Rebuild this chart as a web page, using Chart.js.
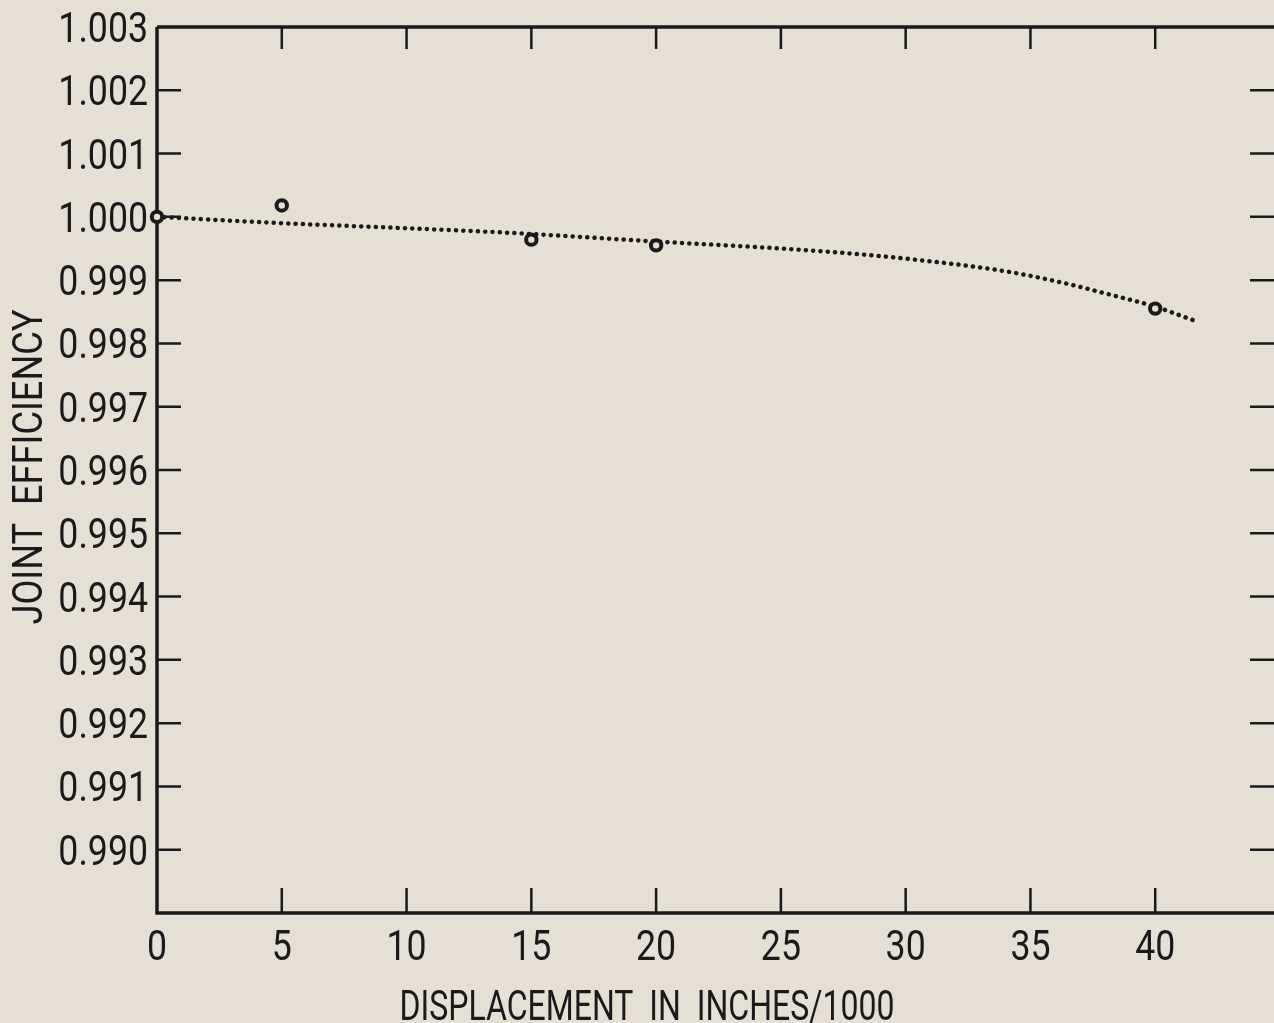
<!DOCTYPE html>
<html>
<head>
<meta charset="utf-8">
<script src="https://cdn.jsdelivr.net/npm/chart.js@4.4.1/dist/chart.umd.min.js"></script>
<style>
html, body { margin: 0; padding: 0; background: #e5dfd4; overflow: hidden; }
#wrap { width: 1290px; height: 1023px; }
</style>
</head>
<body>
<div id="wrap"><canvas id="chart_joint" width="1290" height="1023"></canvas></div>
<script>
// measured joint efficiency vs displacement (in/1000)
const measuredX = [0, 5, 15, 20, 40];
const measuredEff = [1.0000, 1.00018, 0.99964, 0.99955, 0.99855];

// smoothed trend through the measurements
const curveX = [0, 5, 10, 14, 20, 26.5, 30, 34, 36.5, 38, 40, 41.5];
const curveEff = [1.0000, 0.99990, 0.99982, 0.99975, 0.99961, 0.99946, 0.99934, 0.99914, 0.99894, 0.99879, 0.99858, 0.99837];

const xTickLabels = ['0', '5', '10', '15', '20', '25', '30', '35', '40'];
const yTickLabels = ['0.990', '0.991', '0.992', '0.993', '0.994', '0.995', '0.996', '0.997', '0.998', '0.999', '1.000', '1.001', '1.002', '1.003'];

const xTitle = 'DISPLACEMENT  IN  INCHES/1000';
const yTitle = 'JOINT  EFFICIENCY';

const BG = '#e5dfd4';
const INK = '#1a1a1a';
const FONT = 'Roboto, "Liberation Sans", sans-serif';
const LABEL_PX = 43;
const SQUEEZE = 0.83;   // lettering is narrower than the font

function labelFor(list, value, digits) {
    const s = digits ? value.toFixed(digits) : String(Math.round(value));
    return list.includes(s) ? s : '';
}

// condensed text: squeeze horizontally, optionally to a fixed width
function drawText(ctx, text, x, y, align, width) {
    ctx.save();
    ctx.translate(x, y);
    const w = ctx.measureText(text).width;
    ctx.scale(width ? width / w : SQUEEZE, 1);
    ctx.textAlign = align;
    ctx.fillText(text, 0, 0);
    ctx.restore();
}

// frame, inward tick marks and lettering
const frameTicks = {
    id: 'frameTicks',
    beforeDatasetsDraw(chart) {
        const ctx = chart.ctx;
        const { left, right, top, bottom } = chart.chartArea;
        const xs = chart.scales.x;
        const ys = chart.scales.y;

        ctx.save();
        ctx.strokeStyle = INK;
        ctx.lineCap = 'butt';

        ctx.lineWidth = 3.5;
        ctx.beginPath();
        ctx.moveTo(left, top);
        ctx.lineTo(left, bottom);
        ctx.lineTo(right, bottom);
        ctx.moveTo(left, top);
        ctx.lineTo(right, top);
        ctx.stroke();

        ctx.lineWidth = 2.5;
        ctx.beginPath();
        xs.ticks.forEach(t => {
            if (!labelFor(xTickLabels, t.value) || t.value === 0) return;
            const px = xs.getPixelForValue(t.value);
            ctx.moveTo(px, bottom);
            ctx.lineTo(px, bottom - 25);
            ctx.moveTo(px, top);
            ctx.lineTo(px, top + 22);
        });
        ys.ticks.forEach(t => {
            const lab = labelFor(yTickLabels, t.value, 3);
            if (!lab || lab === '1.003') return;
            const py = ys.getPixelForValue(t.value);
            ctx.moveTo(left, py);
            ctx.lineTo(left + 24, py);
            ctx.moveTo(right, py);
            ctx.lineTo(right - 30, py);
        });
        ctx.stroke();
        ctx.restore();
    },
    afterDraw(chart) {
        const ctx = chart.ctx;
        const { left, bottom } = chart.chartArea;
        const xs = chart.scales.x;
        const ys = chart.scales.y;

        ctx.save();
        ctx.fillStyle = INK;
        ctx.font = LABEL_PX + 'px ' + FONT;
        ctx.textBaseline = 'alphabetic';

        xs.ticks.forEach(t => {
            const lab = labelFor(xTickLabels, t.value);
            if (lab) drawText(ctx, lab, xs.getPixelForValue(t.value), bottom + 47, 'center');
        });
        ys.ticks.forEach(t => {
            const lab = labelFor(yTickLabels, t.value, 3);
            if (lab) drawText(ctx, lab, left - 9, ys.getPixelForValue(t.value) + 15, 'right');
        });

        drawText(ctx, xTitle, 647, 1020, 'center', 495);

        ctx.translate(42, 467);
        ctx.rotate(-Math.PI / 2);
        drawText(ctx, yTitle, 0, 0, 'center', 315);
        ctx.restore();
    }
};

const ctx = document.getElementById('chart_joint').getContext('2d');
const chart = new Chart(ctx, {
    type: 'line',
    data: {
        datasets: [{
            label: 'measured',
            data: measuredX.map((x, i) => ({ x: x, y: measuredEff[i] })),
            showLine: false,
            pointRadius: 5.2,
            pointHoverRadius: 5.2,
            pointBorderWidth: 4,
            pointBackgroundColor: BG,
            pointBorderColor: INK,
            clip: false,
            order: 0
        }, {
            label: 'trend',
            data: curveX.map((x, i) => ({ x: x, y: curveEff[i] })),
            borderColor: INK,
            borderWidth: 4.5,
            borderDash: [0.1, 7.2],
            borderCapStyle: 'round',
            cubicInterpolationMode: 'monotone',
            pointRadius: 0,
            fill: false,
            order: 1
        }]
    },
    options: {
        responsive: false,
        animation: false,
        events: [],
        layout: {
            padding: { top: 27, right: 10, bottom: 0, left: 0 }
        },
        plugins: {
            legend: { display: false },
            tooltip: { enabled: false }
        },
        scales: {
            x: {
                type: 'linear',
                min: 0,
                max: 45,
                grid: { display: false, drawTicks: false },
                border: { display: false },
                ticks: { display: false, stepSize: 5, autoSkip: false },
                afterFit: s => { s.height = 110; }
            },
            y: {
                type: 'linear',
                min: 0.989,
                max: 1.003,
                grid: { display: false, drawTicks: false },
                border: { display: false },
                ticks: { display: false, stepSize: 0.001, autoSkip: false },
                afterFit: s => { s.width = 157; }
            }
        }
    },
    plugins: [frameTicks]
});
</script>
</body>
</html>
